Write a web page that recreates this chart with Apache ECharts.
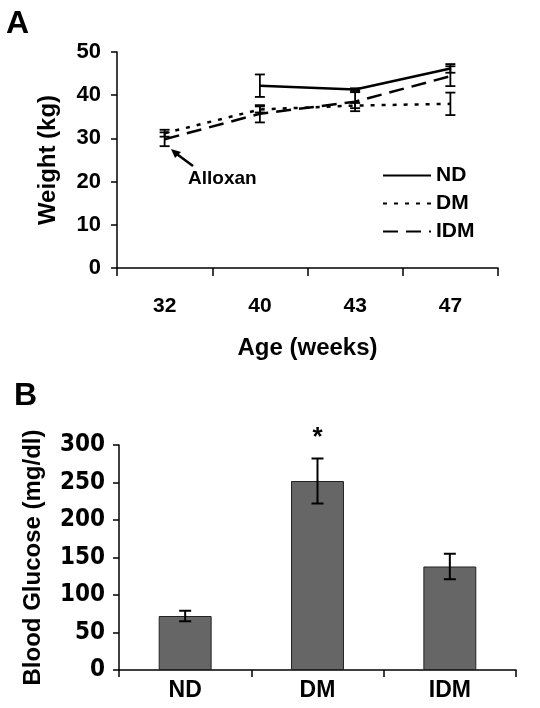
<!DOCTYPE html>
<html><head><meta charset="utf-8">
<script src="https://cdn.jsdelivr.net/npm/echarts@6/dist/echarts.min.js"></script>
<style>html,body{margin:0;padding:0;background:#fff}#c{width:540px;height:708px}</style>
</head><body><div id="c"></div>
<script>
// Panel A data
const ages = ['32', '40', '43', '47'];
const weightYTicks = [0, 10, 20, 30, 40, 50];
const ndWeight = [null, 42.2, 41.3, 46.2];
const ndWeightErr = [null, 2.6, 0.3, 1.0];
const dmWeight = [31.2, 36.7, 37.6, 38.0];
const dmWeightErr = [0.8, 0.7, 0.6, 2.6];
const idmWeight = [29.8, 35.7, 38.5, 44.4];
const idmWeightErr = [1.6, 2.0, 2.2, 2.3];
// Panel B data
const groups = ['ND', 'DM', 'IDM'];
const glucose = [72, 252, 138];
const glucoseErr = [7, 30, 17];
const glucoseSig = ['', '*', ''];

const FONT = '"Liberation Sans", Arial, sans-serif';
const NARROW = '"Liberation Sans Narrow", "Arial Narrow", "DejaVu Sans Condensed", sans-serif';

function errData(means, errs) {
  const out = [];
  means.forEach((m, i) => { if (m != null) out.push([i, m - errs[i], m + errs[i], m]); });
  return out;
}
function errRender(cap, lw) {
  return function (params, api) {
    const lo = api.coord([api.value(0), api.value(1)]);
    const hi = api.coord([api.value(0), api.value(2)]);
    const x = lo[0];
    const st = { stroke: '#000', lineWidth: lw };
    return { type: 'group', children: [
      { type: 'line', shape: { x1: x, y1: lo[1], x2: x, y2: hi[1] }, style: st },
      { type: 'line', shape: { x1: x - cap, y1: lo[1], x2: x + cap, y2: lo[1] }, style: st },
      { type: 'line', shape: { x1: x - cap, y1: hi[1], x2: x + cap, y2: hi[1] }, style: st }
    ]};
  };
}

const chart = echarts.init(document.getElementById('c'), null, { renderer: 'canvas' });
const lineCommon = { xAxisIndex: 0, yAxisIndex: 0, symbol: 'none', z: 3 };
chart.setOption({
  animation: false,
  backgroundColor: '#fff',
  textStyle: { fontFamily: FONT },
  grid: [
    { left: 117, right: 42, top: 52, bottom: 440 },
    { left: 119, right: 24, top: 445, bottom: 38 }
  ],
  legend: {
    data: ['ND', 'DM', 'IDM'],
    orient: 'vertical', left: 377, top: 160, itemGap: 7,
    itemWidth: 48, itemHeight: 22,
    itemStyle: { opacity: 0 },
    textStyle: { fontFamily: FONT, fontSize: 21, fontWeight: 'bold', color: '#000' },
    selectedMode: false
  },
  xAxis: [
    { type: 'category', gridIndex: 0, data: ages, boundaryGap: true,
      axisLine: { lineStyle: { color: '#000', width: 1.5 } },
      axisTick: { show: true, length: 8, inside: false, alignWithLabel: false, lineStyle: { color: '#000', width: 1.5 } },
      axisLabel: { color: '#000', fontSize: 21, fontWeight: 'bold', fontFamily: FONT, margin: 28 },
      name: 'Age (weeks)', nameLocation: 'middle', nameGap: 68,
      nameTextStyle: { color: '#000', fontSize: 24, fontWeight: 'bold', fontFamily: FONT } },
    { type: 'category', gridIndex: 1, data: groups, boundaryGap: true,
      axisLine: { lineStyle: { color: '#000', width: 1.5 } },
      axisTick: { show: true, length: 7, lineStyle: { color: '#000', width: 1.5 } },
      axisLabel: { color: '#000', fontSize: 23, fontWeight: 'bold', fontFamily: FONT, margin: 9 } }
  ],
  yAxis: [
    { type: 'value', gridIndex: 0, min: 0, max: 50, interval: 10,
      axisLine: { show: true, lineStyle: { color: '#000', width: 1.5 } },
      axisTick: { show: true, length: 6, lineStyle: { color: '#000', width: 1.5 } },
      splitLine: { show: false },
      axisLabel: { color: '#000', fontSize: 22, fontWeight: 'bold', fontFamily: FONT, margin: 16,
        formatter: v => weightYTicks.includes(v) ? String(v) : '' },
      name: 'Weight (kg)', nameLocation: 'middle', nameGap: 57,
      nameTextStyle: { color: '#000', fontSize: 24, fontWeight: 'bold', fontFamily: FONT } },
    { type: 'value', gridIndex: 1, min: 0, max: 300, interval: 50,
      axisLine: { show: true, lineStyle: { color: '#000', width: 1.5 } },
      axisTick: { show: true, length: 6, lineStyle: { color: '#000', width: 1.5 } },
      splitLine: { show: false },
      axisLabel: { color: '#000', fontSize: 24, fontWeight: 'bold', fontFamily: NARROW, margin: 14 },
      name: 'Blood Glucose (mg/dl)', nameLocation: 'middle', nameGap: 74,
      nameTextStyle: { color: '#000', fontSize: 24, fontWeight: 'bold', fontFamily: FONT } }
  ],
  graphic: [
    { type: 'text', left: 6, top: 8, style: { text: 'A', fontSize: 32, fontWeight: 'bold', fontFamily: FONT, fill: '#000' } },
    { type: 'text', left: 14, top: 380, style: { text: 'B', fontSize: 32, fontWeight: 'bold', fontFamily: FONT, fill: '#000' } },
    { type: 'text', left: 188, top: 169, style: { text: 'Alloxan', fontSize: 19, fontWeight: 'bold', fontFamily: FONT, fill: '#000' } },
    { type: 'line', shape: { x1: 193, y1: 166, x2: 174, y2: 152 }, style: { stroke: '#000', lineWidth: 2.5 } },
    { type: 'polygon', shape: { points: [[171, 149], [181, 152], [175, 158]] }, style: { fill: '#000' } }
  ],
  series: [
    Object.assign({ type: 'line', name: 'ND', data: ndWeight, lineStyle: { color: '#000', width: 2.5, type: 'solid' }, itemStyle: { color: '#000' } }, lineCommon),
    Object.assign({ type: 'line', name: 'DM', data: dmWeight, lineStyle: { color: '#000', width: 2.5, type: [4, 7] }, itemStyle: { color: '#000' } }, lineCommon),
    Object.assign({ type: 'line', name: 'IDM', data: idmWeight, lineStyle: { color: '#000', width: 2.5, type: [15, 8] }, itemStyle: { color: '#000' } }, lineCommon),
    { type: 'custom', xAxisIndex: 0, yAxisIndex: 0, renderItem: errRender(5, 1.8), data: errData(ndWeight, ndWeightErr), z: 4 },
    { type: 'custom', xAxisIndex: 0, yAxisIndex: 0, renderItem: errRender(5, 1.8), data: errData(dmWeight, dmWeightErr), z: 4 },
    { type: 'custom', xAxisIndex: 0, yAxisIndex: 0, renderItem: errRender(5, 1.8), data: errData(idmWeight, idmWeightErr), z: 4 },
    { type: 'bar', name: 'Blood Glucose', xAxisIndex: 1, yAxisIndex: 1, data: glucose, barWidth: '40%',
      itemStyle: { color: '#666666', borderColor: '#222', borderWidth: 1 } },
    { type: 'custom', xAxisIndex: 1, yAxisIndex: 1, z: 4,
      data: glucose.map((m, i) => [i, m - glucoseErr[i], m + glucoseErr[i], glucoseSig[i]]),
      renderItem: function (params, api) {
        const g = errRender(6, 2)(params, api);
        const hi = api.coord([api.value(0), api.value(2)]);
        const sig = glucoseSig[params.dataIndex];
        if (sig) g.children.push({ type: 'text', x: hi[0], y: hi[1] - 8,
          style: { text: sig, fontSize: 26, fontWeight: 'bold', fontFamily: FONT, fill: '#000', align: 'center', verticalAlign: 'bottom' } });
        return g;
      } }
  ]
});
</script></body></html>
